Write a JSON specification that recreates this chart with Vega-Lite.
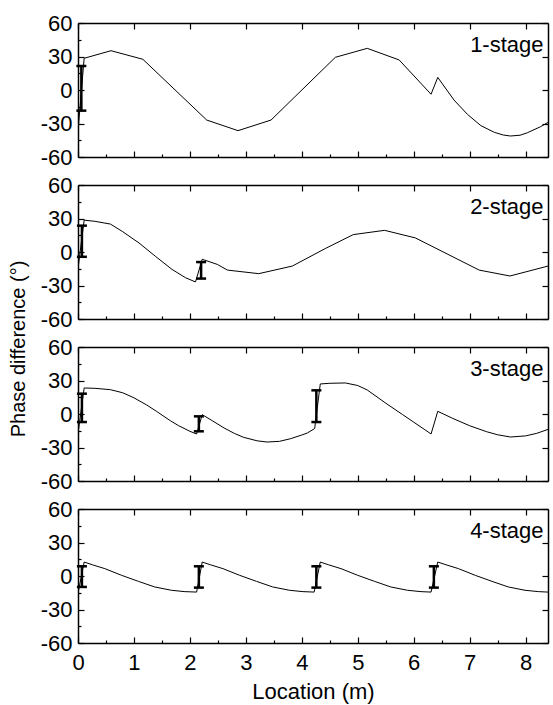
{
"$schema": "https://vega.github.io/schema/vega-lite/v6.json",
"padding": {"left": 9, "top": 12, "right": 2, "bottom": 5},
"background": "white",
"title": {"text": "Phase difference (°)", "orient": "left", "anchor": "middle", "fontSize": 20, "fontWeight": "normal", "font": "Liberation Sans", "color": "black", "offset": 11, "dx": 8},
"spacing": 6,
"datasets": {
"curves": [
{"stage":"1-stage","x":0.01,"v":-31},{"stage":"1-stage","x":0.11,"v":28.4},{"stage":"1-stage","x":0.59,"v":35.2},{"stage":"1-stage","x":1.16,"v":27.5},{"stage":"1-stage","x":2.3,"v":-26.9},{"stage":"1-stage","x":2.86,"v":-36.4},{"stage":"1-stage","x":3.45,"v":-26.9},{"stage":"1-stage","x":4.6,"v":29.3},{"stage":"1-stage","x":5.17,"v":37.3},{"stage":"1-stage","x":5.74,"v":26.9},{"stage":"1-stage","x":6.31,"v":-3.8},{"stage":"1-stage","x":6.43,"v":11.3},{"stage":"1-stage","x":6.72,"v":-9},{"stage":"1-stage","x":6.96,"v":-21.8},{"stage":"1-stage","x":7.2,"v":-31.9},{"stage":"1-stage","x":7.44,"v":-37.9},{"stage":"1-stage","x":7.6,"v":-40.3},{"stage":"1-stage","x":7.73,"v":-41.2},{"stage":"1-stage","x":7.9,"v":-40.5},{"stage":"1-stage","x":8.03,"v":-38.3},{"stage":"1-stage","x":8.27,"v":-32.8},{"stage":"1-stage","x":8.4,"v":-29},
{"stage":"2-stage","x":0.01,"v":-11},{"stage":"2-stage","x":0.11,"v":28.5},{"stage":"2-stage","x":0.3,"v":27.5},{"stage":"2-stage","x":0.58,"v":25},{"stage":"2-stage","x":0.79,"v":18.5},{"stage":"2-stage","x":1.09,"v":8.1},{"stage":"2-stage","x":1.38,"v":-3.7},{"stage":"2-stage","x":1.68,"v":-15.6},{"stage":"2-stage","x":1.92,"v":-23},{"stage":"2-stage","x":2.1,"v":-26.8},{"stage":"2-stage","x":2.22,"v":-6.5},{"stage":"2-stage","x":2.49,"v":-11.1},{"stage":"2-stage","x":2.67,"v":-16.2},{"stage":"2-stage","x":3.23,"v":-19.4},{"stage":"2-stage","x":3.83,"v":-12.6},{"stage":"2-stage","x":4.42,"v":3.1},{"stage":"2-stage","x":4.92,"v":15.6},{"stage":"2-stage","x":5.48,"v":19.4},{"stage":"2-stage","x":6.03,"v":12.6},{"stage":"2-stage","x":7.17,"v":-16.2},{"stage":"2-stage","x":7.72,"v":-21.5},{"stage":"2-stage","x":8.4,"v":-12.6},
{"stage":"3-stage","x":0.01,"v":-14},{"stage":"3-stage","x":0.11,"v":23.3},{"stage":"3-stage","x":0.3,"v":23},{"stage":"3-stage","x":0.58,"v":21.8},{"stage":"3-stage","x":0.8,"v":19},{"stage":"3-stage","x":1.0,"v":14.5},{"stage":"3-stage","x":1.23,"v":8},{"stage":"3-stage","x":1.4,"v":2.5},{"stage":"3-stage","x":1.65,"v":-6},{"stage":"3-stage","x":1.8,"v":-10.5},{"stage":"3-stage","x":2.0,"v":-15.5},{"stage":"3-stage","x":2.12,"v":-17.9},{"stage":"3-stage","x":2.22,"v":-0.6},{"stage":"3-stage","x":2.4,"v":-6},{"stage":"3-stage","x":2.61,"v":-12.5},{"stage":"3-stage","x":2.8,"v":-17.5},{"stage":"3-stage","x":2.96,"v":-20.9},{"stage":"3-stage","x":3.2,"v":-24},{"stage":"3-stage","x":3.38,"v":-25.1},{"stage":"3-stage","x":3.6,"v":-24.5},{"stage":"3-stage","x":3.8,"v":-22.1},{"stage":"3-stage","x":4.0,"v":-18.8},{"stage":"3-stage","x":4.1,"v":-17},{"stage":"3-stage","x":4.23,"v":-13},{"stage":"3-stage","x":4.33,"v":26.9},{"stage":"3-stage","x":4.5,"v":27.5},{"stage":"3-stage","x":4.78,"v":27.8},{"stage":"3-stage","x":5.0,"v":25.5},{"stage":"3-stage","x":5.17,"v":21.5},{"stage":"3-stage","x":5.5,"v":9.7},{"stage":"3-stage","x":5.8,"v":-0.5},{"stage":"3-stage","x":6.0,"v":-7.3},{"stage":"3-stage","x":6.2,"v":-14.1},{"stage":"3-stage","x":6.31,"v":-17.9},{"stage":"3-stage","x":6.43,"v":2.4},{"stage":"3-stage","x":6.7,"v":-4},{"stage":"3-stage","x":7.0,"v":-10.5},{"stage":"3-stage","x":7.3,"v":-15.8},{"stage":"3-stage","x":7.5,"v":-18.6},{"stage":"3-stage","x":7.73,"v":-20.6},{"stage":"3-stage","x":8.0,"v":-19.6},{"stage":"3-stage","x":8.2,"v":-17.3},{"stage":"3-stage","x":8.4,"v":-13.8},
{"stage":"4-stage","x":0.01,"v":-13},{"stage":"4-stage","x":0.11,"v":12.5},{"stage":"4-stage","x":0.26,"v":10},{"stage":"4-stage","x":0.48,"v":6.6},{"stage":"4-stage","x":0.78,"v":0.6},{"stage":"4-stage","x":1.08,"v":-4.8},{"stage":"4-stage","x":1.37,"v":-9.8},{"stage":"4-stage","x":1.67,"v":-12.8},{"stage":"4-stage","x":1.91,"v":-14},{"stage":"4-stage","x":2.12,"v":-14.4},
{"stage":"4-stage","x":2.22,"v":12.5},{"stage":"4-stage","x":2.37,"v":10},{"stage":"4-stage","x":2.59,"v":6.6},{"stage":"4-stage","x":2.89,"v":0.6},{"stage":"4-stage","x":3.19,"v":-4.8},{"stage":"4-stage","x":3.48,"v":-9.8},{"stage":"4-stage","x":3.78,"v":-12.8},{"stage":"4-stage","x":4.02,"v":-14},{"stage":"4-stage","x":4.22,"v":-14.4},
{"stage":"4-stage","x":4.33,"v":12.5},{"stage":"4-stage","x":4.48,"v":10},{"stage":"4-stage","x":4.7,"v":6.6},{"stage":"4-stage","x":5.0,"v":0.6},{"stage":"4-stage","x":5.3,"v":-4.8},{"stage":"4-stage","x":5.59,"v":-9.8},{"stage":"4-stage","x":5.89,"v":-12.8},{"stage":"4-stage","x":6.13,"v":-14},{"stage":"4-stage","x":6.31,"v":-14.4},
{"stage":"4-stage","x":6.43,"v":12.5},{"stage":"4-stage","x":6.58,"v":10},{"stage":"4-stage","x":6.8,"v":6.6},{"stage":"4-stage","x":7.1,"v":0.6},{"stage":"4-stage","x":7.4,"v":-4.8},{"stage":"4-stage","x":7.69,"v":-9.8},{"stage":"4-stage","x":7.99,"v":-12.8},{"stage":"4-stage","x":8.23,"v":-14},{"stage":"4-stage","x":8.4,"v":-14.4}
],
"errs": [
{"stage":"1-stage","x":0.06,"lo":-18.5,"hi":21.5},
{"stage":"2-stage","x":0.07,"lo":-4.3,"hi":23.6},{"stage":"2-stage","x":2.2,"lo":-23.8,"hi":-9},
{"stage":"3-stage","x":0.07,"lo":-7.2,"hi":18.2},{"stage":"3-stage","x":2.16,"lo":-15.5,"hi":-2.1},{"stage":"3-stage","x":4.26,"lo":-7.2,"hi":21.2},
{"stage":"4-stage","x":0.07,"lo":-9.8,"hi":8.7},{"stage":"4-stage","x":2.16,"lo":-10.4,"hi":8.7},{"stage":"4-stage","x":4.26,"lo":-10.4,"hi":8.7},{"stage":"4-stage","x":6.36,"lo":-10.4,"hi":8.7}
]
},
"vconcat": [
{"width": 470, "height": 134,
 "layer": [
  {"data": {"name": "curves"}, "transform": [{"filter": "datum.stage === '1-stage'"}],
   "mark": {"type": "line", "color": "black", "strokeWidth": 1},
   "encoding": {
    "x": {"field": "x", "type": "quantitative", "scale": {"domain": [0, 8.4], "nice": false, "zero": false}, "axis": {"orient": "bottom", "values": [0,0.5,1,1.5,2,2.5,3,3.5,4,4.5,5,5.5,6,6.5,7,7.5,8], "tickSize": {"condition": {"test": "datum.value % 1 !== 0", "value": -3}, "value": -6}, "labels": false, "title": null}},
    "y": {"field": "v", "type": "quantitative", "scale": {"domain": [-60, 60], "nice": false}, "axis": {"orient": "left", "values": [-60,-45,-30,-15,0,15,30,45,60], "tickSize": {"condition": {"test": "datum.value % 30 !== 0", "value": -3}, "value": -6}, "labelExpr": "datum.value % 30 === 0 ? '' + datum.value : ''", "labelPadding": 12, "title": null}}
   }},
  {"data": {"name": "errs"}, "transform": [{"filter": "datum.stage === '1-stage'"}],
   "mark": {"type": "rule", "color": "black", "strokeWidth": 2.5, "opacity": 1},
   "encoding": {
    "x": {"field": "x", "type": "quantitative", "axis": {"orient": "top", "values": [0,1,2,3,4,5,6,7,8], "tickSize": -6, "labels": false, "title": null}},
    "y": {"field": "lo", "type": "quantitative", "axis": {"orient": "right", "values": [-60,-30,0,30,60], "tickSize": -6, "labels": false, "title": null}},
    "y2": {"field": "hi"}
   }},
  {"data": {"name": "errs"}, "transform": [{"filter": "datum.stage === '1-stage'"}],
   "mark": {"type": "tick", "orient": "horizontal", "color": "black", "opacity": 1, "size": 10, "thickness": 2.5},
   "encoding": {"x": {"field": "x", "type": "quantitative", "axis": null}, "y": {"field": "lo", "type": "quantitative", "axis": null}}},
  {"data": {"name": "errs"}, "transform": [{"filter": "datum.stage === '1-stage'"}],
   "mark": {"type": "tick", "orient": "horizontal", "color": "black", "opacity": 1, "size": 10, "thickness": 2.5},
   "encoding": {"x": {"field": "x", "type": "quantitative", "axis": null}, "y": {"field": "hi", "type": "quantitative", "axis": null}}},
  {"data": {"values": [{"label": "1-stage"}]},
   "mark": {"type": "text", "align": "right", "baseline": "alphabetic", "fontSize": 22, "font": "Liberation Sans", "color": "black"},
   "encoding": {"x": {"datum": 8.32, "type": "quantitative", "axis": null}, "y": {"datum": 34, "type": "quantitative", "axis": null}, "text": {"field": "label"}}}
 ],
 "resolve": {"axis": {"x": "independent", "y": "independent"}}
},
{"width": 470, "height": 134,
 "layer": [
  {"data": {"name": "curves"}, "transform": [{"filter": "datum.stage === '2-stage'"}],
   "mark": {"type": "line", "color": "black", "strokeWidth": 1},
   "encoding": {
    "x": {"field": "x", "type": "quantitative", "scale": {"domain": [0, 8.4], "nice": false, "zero": false}, "axis": {"orient": "bottom", "values": [0,0.5,1,1.5,2,2.5,3,3.5,4,4.5,5,5.5,6,6.5,7,7.5,8], "tickSize": {"condition": {"test": "datum.value % 1 !== 0", "value": -3}, "value": -6}, "labels": false, "title": null}},
    "y": {"field": "v", "type": "quantitative", "scale": {"domain": [-60, 60], "nice": false}, "axis": {"orient": "left", "values": [-60,-45,-30,-15,0,15,30,45,60], "tickSize": {"condition": {"test": "datum.value % 30 !== 0", "value": -3}, "value": -6}, "labelExpr": "datum.value % 30 === 0 ? '' + datum.value : ''", "labelPadding": 12, "title": null}}
   }},
  {"data": {"name": "errs"}, "transform": [{"filter": "datum.stage === '2-stage'"}],
   "mark": {"type": "rule", "color": "black", "strokeWidth": 2.5, "opacity": 1},
   "encoding": {
    "x": {"field": "x", "type": "quantitative", "axis": {"orient": "top", "values": [0,1,2,3,4,5,6,7,8], "tickSize": -6, "labels": false, "title": null}},
    "y": {"field": "lo", "type": "quantitative", "axis": {"orient": "right", "values": [-60,-30,0,30,60], "tickSize": -6, "labels": false, "title": null}},
    "y2": {"field": "hi"}
   }},
  {"data": {"name": "errs"}, "transform": [{"filter": "datum.stage === '2-stage'"}],
   "mark": {"type": "tick", "orient": "horizontal", "color": "black", "opacity": 1, "size": 10, "thickness": 2.5},
   "encoding": {"x": {"field": "x", "type": "quantitative", "axis": null}, "y": {"field": "lo", "type": "quantitative", "axis": null}}},
  {"data": {"name": "errs"}, "transform": [{"filter": "datum.stage === '2-stage'"}],
   "mark": {"type": "tick", "orient": "horizontal", "color": "black", "opacity": 1, "size": 10, "thickness": 2.5},
   "encoding": {"x": {"field": "x", "type": "quantitative", "axis": null}, "y": {"field": "hi", "type": "quantitative", "axis": null}}},
  {"data": {"values": [{"label": "2-stage"}]},
   "mark": {"type": "text", "align": "right", "baseline": "alphabetic", "fontSize": 22, "font": "Liberation Sans", "color": "black"},
   "encoding": {"x": {"datum": 8.32, "type": "quantitative", "axis": null}, "y": {"datum": 34, "type": "quantitative", "axis": null}, "text": {"field": "label"}}}
 ],
 "resolve": {"axis": {"x": "independent", "y": "independent"}}
},
{"width": 470, "height": 134,
 "layer": [
  {"data": {"name": "curves"}, "transform": [{"filter": "datum.stage === '3-stage'"}],
   "mark": {"type": "line", "color": "black", "strokeWidth": 1},
   "encoding": {
    "x": {"field": "x", "type": "quantitative", "scale": {"domain": [0, 8.4], "nice": false, "zero": false}, "axis": {"orient": "bottom", "values": [0,0.5,1,1.5,2,2.5,3,3.5,4,4.5,5,5.5,6,6.5,7,7.5,8], "tickSize": {"condition": {"test": "datum.value % 1 !== 0", "value": -3}, "value": -6}, "labels": false, "title": null}},
    "y": {"field": "v", "type": "quantitative", "scale": {"domain": [-60, 60], "nice": false}, "axis": {"orient": "left", "values": [-60,-45,-30,-15,0,15,30,45,60], "tickSize": {"condition": {"test": "datum.value % 30 !== 0", "value": -3}, "value": -6}, "labelExpr": "datum.value % 30 === 0 ? '' + datum.value : ''", "labelPadding": 12, "title": null}}
   }},
  {"data": {"name": "errs"}, "transform": [{"filter": "datum.stage === '3-stage'"}],
   "mark": {"type": "rule", "color": "black", "strokeWidth": 2.5, "opacity": 1},
   "encoding": {
    "x": {"field": "x", "type": "quantitative", "axis": {"orient": "top", "values": [0,1,2,3,4,5,6,7,8], "tickSize": -6, "labels": false, "title": null}},
    "y": {"field": "lo", "type": "quantitative", "axis": {"orient": "right", "values": [-60,-30,0,30,60], "tickSize": -6, "labels": false, "title": null}},
    "y2": {"field": "hi"}
   }},
  {"data": {"name": "errs"}, "transform": [{"filter": "datum.stage === '3-stage'"}],
   "mark": {"type": "tick", "orient": "horizontal", "color": "black", "opacity": 1, "size": 10, "thickness": 2.5},
   "encoding": {"x": {"field": "x", "type": "quantitative", "axis": null}, "y": {"field": "lo", "type": "quantitative", "axis": null}}},
  {"data": {"name": "errs"}, "transform": [{"filter": "datum.stage === '3-stage'"}],
   "mark": {"type": "tick", "orient": "horizontal", "color": "black", "opacity": 1, "size": 10, "thickness": 2.5},
   "encoding": {"x": {"field": "x", "type": "quantitative", "axis": null}, "y": {"field": "hi", "type": "quantitative", "axis": null}}},
  {"data": {"values": [{"label": "3-stage"}]},
   "mark": {"type": "text", "align": "right", "baseline": "alphabetic", "fontSize": 22, "font": "Liberation Sans", "color": "black"},
   "encoding": {"x": {"datum": 8.32, "type": "quantitative", "axis": null}, "y": {"datum": 34, "type": "quantitative", "axis": null}, "text": {"field": "label"}}}
 ],
 "resolve": {"axis": {"x": "independent", "y": "independent"}}
},
{"width": 470, "height": 134,
 "layer": [
  {"data": {"name": "curves"}, "transform": [{"filter": "datum.stage === '4-stage'"}],
   "mark": {"type": "line", "color": "black", "strokeWidth": 1},
   "encoding": {
    "x": {"field": "x", "type": "quantitative", "scale": {"domain": [0, 8.4], "nice": false, "zero": false}, "axis": {"orient": "bottom", "values": [0,0.5,1,1.5,2,2.5,3,3.5,4,4.5,5,5.5,6,6.5,7,7.5,8], "tickSize": {"condition": {"test": "datum.value % 1 !== 0", "value": -3}, "value": -6}, "labelExpr": "datum.value % 1 === 0 ? '' + datum.value : ''", "labelFlush": false, "title": "Location (m)", "labelPadding": 15, "titlePadding": 8}},
    "y": {"field": "v", "type": "quantitative", "scale": {"domain": [-60, 60], "nice": false}, "axis": {"orient": "left", "values": [-60,-45,-30,-15,0,15,30,45,60], "tickSize": {"condition": {"test": "datum.value % 30 !== 0", "value": -3}, "value": -6}, "labelExpr": "datum.value % 30 === 0 ? '' + datum.value : ''", "labelPadding": 12, "title": null}}
   }},
  {"data": {"name": "errs"}, "transform": [{"filter": "datum.stage === '4-stage'"}],
   "mark": {"type": "rule", "color": "black", "strokeWidth": 2.5, "opacity": 1},
   "encoding": {
    "x": {"field": "x", "type": "quantitative", "axis": {"orient": "top", "values": [0,1,2,3,4,5,6,7,8], "tickSize": -6, "labels": false, "title": null}},
    "y": {"field": "lo", "type": "quantitative", "axis": {"orient": "right", "values": [-60,-30,0,30,60], "tickSize": -6, "labels": false, "title": null}},
    "y2": {"field": "hi"}
   }},
  {"data": {"name": "errs"}, "transform": [{"filter": "datum.stage === '4-stage'"}],
   "mark": {"type": "tick", "orient": "horizontal", "color": "black", "opacity": 1, "size": 10, "thickness": 2.5},
   "encoding": {"x": {"field": "x", "type": "quantitative", "axis": null}, "y": {"field": "lo", "type": "quantitative", "axis": null}}},
  {"data": {"name": "errs"}, "transform": [{"filter": "datum.stage === '4-stage'"}],
   "mark": {"type": "tick", "orient": "horizontal", "color": "black", "opacity": 1, "size": 10, "thickness": 2.5},
   "encoding": {"x": {"field": "x", "type": "quantitative", "axis": null}, "y": {"field": "hi", "type": "quantitative", "axis": null}}},
  {"data": {"values": [{"label": "4-stage"}]},
   "mark": {"type": "text", "align": "right", "baseline": "alphabetic", "fontSize": 22, "font": "Liberation Sans", "color": "black"},
   "encoding": {"x": {"datum": 8.32, "type": "quantitative", "axis": null}, "y": {"datum": 34, "type": "quantitative", "axis": null}, "text": {"field": "label"}}}
 ],
 "resolve": {"axis": {"x": "independent", "y": "independent"}}
}
],
"config": {
 "font": "Liberation Sans",
 "view": {"stroke": null},
 "axis": {"domainColor": "black", "domainWidth": 1.5, "tickColor": "black", "tickWidth": 1.2, "grid": false, "minExtent": 0, "labelFlush": false, "labelFont": "Liberation Sans", "labelFontSize": 22, "labelColor": "black", "labelPadding": 8, "titleFont": "Liberation Sans", "titleFontSize": 22, "titleFontWeight": "normal", "titleColor": "black"}
}
}
